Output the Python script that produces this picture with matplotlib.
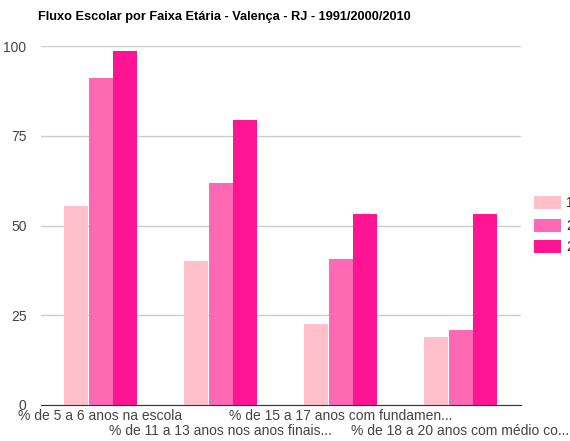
import matplotlib
matplotlib.use("Agg")
import matplotlib.pyplot as plt
from matplotlib.patches import Rectangle
import numpy as np

plt.rcParams['font.family'] = ['Liberation Sans', 'DejaVu Sans']

categories = ["% de 5 a 6 anos na escola",
              "% de 11 a 13 anos nos anos finais...",
              "% de 15 a 17 anos com fundamen...",
              "% de 18 a 20 anos com médio co..."]
series_names = ["1991", "2000", "2010"]
v1991 = [55.4, 40.0, 22.6, 18.9]
v2000 = [91.1, 61.7, 40.8, 21.0]
v2010 = [98.7, 79.5, 53.3, 53.1]
colors = ["#FFC0CB", "#FF69B4", "#FF1493"]
yticks = [0, 25, 50, 75, 100]

fig = plt.figure(figsize=(5.7, 4.41), dpi=100)
ax = fig.add_axes([40.5/570, 1-405/441, (520.5-40.5)/570, (405-46)/441])

x = np.arange(len(categories))
w = 0.2
for i, (vals, c) in enumerate(zip([v1991, v2000, v2010], colors)):
    ax.bar(x + (i-1)*(w+0.005), vals, width=w, color=c, zorder=2, linewidth=0)

ax.set_xlim(-0.5, 3.5)
ax.set_ylim(0, 100)
ax.set_yticks(yticks)
ax.set_yticklabels([str(t) for t in yticks], color="#444444", fontsize=10)
ax.tick_params(axis='y', length=0, pad=10)
ax.tick_params(axis='x', length=0)
ax.set_xticks([])
for s in ['top', 'right', 'left']:
    ax.spines[s].set_visible(False)
ax.spines['bottom'].set_color('#333333')
ax.spines['bottom'].set_zorder(3)
ax.yaxis.grid(True, color='#cccccc', linewidth=1, zorder=0)

for i, lab in enumerate(categories):
    yoff = -0.031 if i % 2 == 0 else -0.072
    ax.text(i, yoff, lab, transform=ax.get_xaxis_transform(), ha='center', va='center',
            fontsize=10, color='#444444')

fig.text(38/570, 1-17/441, "Fluxo Escolar por Faixa Etária - Valença - RJ - 1991/2000/2010",
         fontsize=9.15, fontweight='bold', va='center', ha='left', color='#000000')

# legend
ys = [203, 226, 247]
for name, c, yy in zip(series_names, colors, ys):
    fig.patches.append(Rectangle((534/570, 1-(yy+6)/441), 27/570, 13/441,
                                 transform=fig.transFigure, facecolor=c, edgecolor='none'))
    fig.text(566/570, 1-yy/441, name, fontsize=10, color='#222222', va='center', ha='left')

fig.savefig("out.png", dpi=100)
